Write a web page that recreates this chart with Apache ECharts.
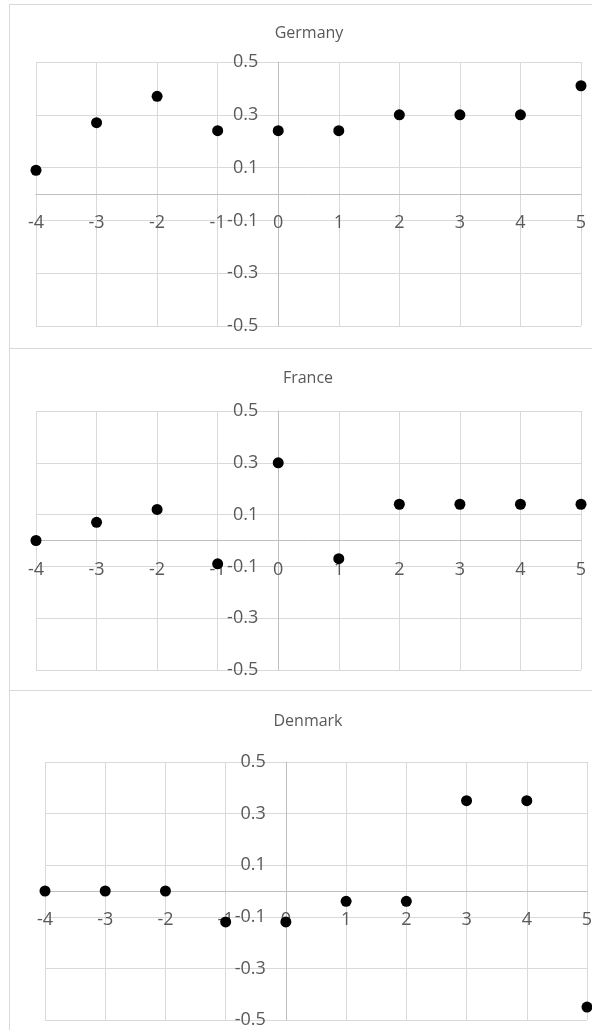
<!DOCTYPE html>
<html>
<head>
<meta charset="utf-8">
<script src="https://cdn.jsdelivr.net/npm/echarts@6/dist/echarts.min.js"></script>
<style>
  html, body { margin: 0; padding: 0; background: #fff; overflow: hidden; width: 592px; height: 1030px; }
  .panel { position: absolute; left: 9px; width: 640px; border-left: 1px solid #d9d9d9; border-top: 1px solid #d9d9d9; }
  .panel div.chart { width: 100%; height: 100%; }
</style>
</head>
<body>
<div class="panel" style="top:4px;height:343px"><div class="chart" id="germany"></div></div>
<div class="panel" style="top:348px;height:341px"><div class="chart" id="france"></div></div>
<div class="panel" style="top:690px;height:340px"><div class="chart" id="denmark"></div></div>
<script>
// x positions shared by all three panels
const years = [-4, -3, -2, -1, 0, 1, 2, 3, 4, 5];

const germany = [0.09, 0.27, 0.37, 0.24, 0.24, 0.24, 0.30, 0.30, 0.30, 0.41];
const france  = [0.00, 0.07, 0.12, -0.09, 0.30, -0.07, 0.14, 0.14, 0.14, 0.14];
const denmark = [0.00, 0.00, 0.00, -0.12, -0.12, -0.04, -0.04, 0.35, 0.35, -0.45];

const xTicks = { min: -4, max: 5, step: 1 };
const yTicks = { min: -0.5, max: 0.5, step: 0.2 };

const textColor = '#595959';
const gridColor = '#d9d9d9';
const axisColor = '#bfbfbf';
const font = 'Open Sans';

function renderPanel(id, title, values, layout) {
    const dom = document.getElementById(id);
    const chart = echarts.init(dom);

    // axes cross at zero: shift them from the grid edge to the zero position
    const xZeroOffset = -layout.height * (0 - yTicks.min) / (yTicks.max - yTicks.min);
    const yZeroOffset = -layout.width * (0 - xTicks.min) / (xTicks.max - xTicks.min);

    chart.setOption({
        animation: false,
        backgroundColor: 'transparent',
        title: {
            text: title,
            left: layout.titleX,
            top: layout.titleTop,
            textAlign: 'center',
            textStyle: { color: textColor, fontSize: 16, fontWeight: 'normal', fontFamily: font }
        },
        grid: {
            left: layout.left,
            top: layout.top,
            width: layout.width,
            height: layout.height,
            containLabel: false,
            outerBoundsMode: 'none'
        },
        xAxis: {
            type: 'value',
            position: 'bottom',
            offset: xZeroOffset,
            min: xTicks.min,
            max: xTicks.max,
            interval: xTicks.step,
            axisLine: { onZero: false, lineStyle: { color: axisColor, width: 1 } },
            axisTick: { show: false },
            axisLabel: {
                color: textColor,
                fontSize: 18,
                fontFamily: font,
                margin: 20,
                hideOverlap: false
            },
            splitLine: { show: true, lineStyle: { color: gridColor, width: 1 } }
        },
        yAxis: {
            type: 'value',
            position: 'left',
            offset: yZeroOffset,
            min: yTicks.min,
            max: yTicks.max,
            interval: yTicks.step,
            axisLine: { show: true, onZero: false, lineStyle: { color: axisColor, width: 1 } },
            axisTick: { show: false },
            axisLabel: {
                color: textColor,
                fontSize: 18,
                fontFamily: font,
                margin: 20,
                hideOverlap: false,
                formatter: v => v.toFixed(1)
            },
            splitLine: { show: true, lineStyle: { color: gridColor, width: 1 } }
        },
        series: [{
            type: 'scatter',
            data: years.map((x, i) => [x, values[i]]),
            symbol: 'circle',
            symbolSize: 11,
            clip: false,
            itemStyle: { color: '#000', opacity: 1 }
        }]
    });
}

renderPanel('germany', 'Germany', germany, { left: 26, top: 57, width: 545, height: 264, titleX: 294, titleTop: 15 });
renderPanel('france', 'France', france, { left: 26, top: 62, width: 545, height: 259, titleX: 293, titleTop: 16 });
renderPanel('denmark', 'Denmark', denmark, { left: 35, top: 71, width: 542, height: 258, titleX: 293, titleTop: 17 });
</script>
</body>
</html>
